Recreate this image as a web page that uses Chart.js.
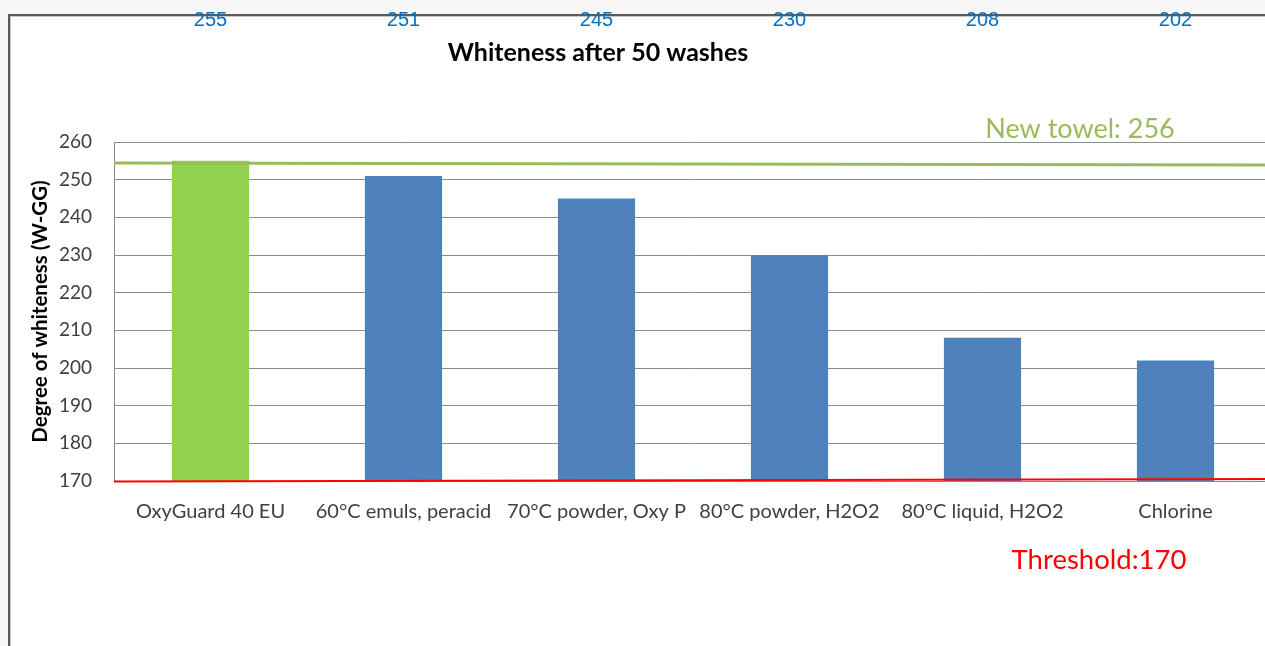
<!DOCTYPE html>
<html>
<head>
<meta charset="utf-8">
<script src="https://cdn.jsdelivr.net/npm/chart.js@4.4.1/dist/chart.umd.min.js"></script>
<style>
  html, body { margin: 0; padding: 0; overflow: hidden; background: #f7f7f7; width: 1265px; height: 646px; }
  #frame { position: absolute; left: 8px; top: 14px; width: 1300px; height: 700px; background: #ffffff;
           border-top: 2px solid #5a5a5a; border-left: 2px solid #5a5a5a; box-shadow: inset 1px 1px 0 #c8c8c8; }
  #wrap { position: absolute; left: 0; top: 0; width: 1265px; height: 646px; overflow: hidden; }
  canvas { position: absolute; left: 0; top: 0; }
</style>
</head>
<body>
<div id="frame"></div>
<div id="wrap"><canvas id="c" width="1272" height="646"></canvas></div>
<script>
// ---- data ----
const categories = ["OxyGuard 40 EU", "60°C emuls, peracid", "70°C powder, Oxy P", "80°C powder, H2O2", "80°C liquid, H2O2", "Chlorine"];
const whiteness = [255, 251, 245, 230, 208, 202];
const barColors = ["#92D050", "#4F81BD", "#4F81BD", "#4F81BD", "#4F81BD", "#4F81BD"];
const newTowelLine = [254.4, 253.9];   // drawn reference line (left end, right end)
const thresholdLine = [169.9, 170.5];  // drawn reference line (left end, right end)
const yTicks = { min: 170, max: 260, step: 10 };
const titleText = "Whiteness after 50 washes";
const yTitle = "Degree of whiteness (W-GG)";
const newTowelLabel = "New towel: 256";
const thresholdLabel = "Threshold:170";

const FONT = "Lato, 'Open Sans', sans-serif";

const textPlugin = {
  id: 'texts',
  afterDatasetsDraw(chart) {
    const ctx = chart.ctx;
    const xs = chart.scales.x;
    const ca = chart.chartArea;
    ctx.save();
    // value labels at top
    ctx.font = "20px 'Liberation Sans', Arial, sans-serif";
    ctx.fillStyle = "#0070C0";
    ctx.textAlign = "center";
    ctx.textBaseline = "middle";
    whiteness.forEach((v, i) => {
      ctx.fillText(String(v), xs.getPixelForValue(i), ca.top - 122);
    });
    // title
    ctx.font = "bold 25px " + FONT;
    ctx.fillStyle = "#000000";
    ctx.fillText(titleText, 598, ca.top - 89);
    // New towel label
    ctx.font = "27px " + FONT;
    ctx.fillStyle = "#9BBB59";
    ctx.fillText(newTowelLabel, 1080, ca.top - 13);
    // Threshold label
    ctx.font = "27.5px " + FONT;
    ctx.fillStyle = "#FF0000";
    ctx.fillText(thresholdLabel, 1099, ca.bottom + 79);
    ctx.restore();
  }
};

new Chart(document.getElementById('c'), {
  data: {
    labels: categories,
    datasets: [
      {
        type: 'line', label: newTowelLabel, xAxisID: 'x2', order: 0,
        data: [{ x: 0, y: newTowelLine[0] }, { x: 1, y: newTowelLine[1] }],
        borderColor: '#9BBB59', borderWidth: 3, pointRadius: 0, clip: false
      },
      {
        type: 'line', label: thresholdLabel, xAxisID: 'x2', order: 0,
        data: [{ x: 0, y: thresholdLine[0] }, { x: 1, y: thresholdLine[1] }],
        borderColor: '#FF0000', borderWidth: 2, pointRadius: 0, clip: false
      },
      {
        type: 'bar', label: 'Whiteness', order: 1, xAxisID: 'x',
        data: whiteness, backgroundColor: barColors, grouped: false,
        barPercentage: 0.4, categoryPercentage: 1.0
      }
    ]
  },
  options: {
    responsive: false, animation: false, devicePixelRatio: 1,
    layout: { padding: { top: 142, left: 0, right: 0, bottom: 0 } },
    plugins: { legend: { display: false }, tooltip: { enabled: false }, title: { display: false } },
    scales: {
      x: {
        type: 'category', offset: true,
        grid: { display: false, drawTicks: false },
        border: { display: true, color: '#868686' },
        ticks: { color: '#404040', font: { family: FONT, size: 20 }, padding: 19, maxRotation: 0, autoSkip: false },
        afterFit(s) { s.height = 165; }
      },
      x2: { type: 'linear', min: 0, max: 1, display: false },
      y: {
        min: yTicks.min, max: yTicks.max,
        grid: { color: '#8c8c8c', drawTicks: false },
        border: { display: true, color: '#868686' },
        ticks: { stepSize: yTicks.step, color: '#404040', font: { family: FONT, size: 19 }, padding: 22 },
        title: { display: true, text: yTitle, color: '#000000', font: { family: FONT, size: 20.5, weight: 'bold' }, padding: { top: 28 } },
        afterFit(s) { s.width = 114; }
      }
    }
  },
  plugins: [textPlugin]
});
</script>
</body>
</html>
